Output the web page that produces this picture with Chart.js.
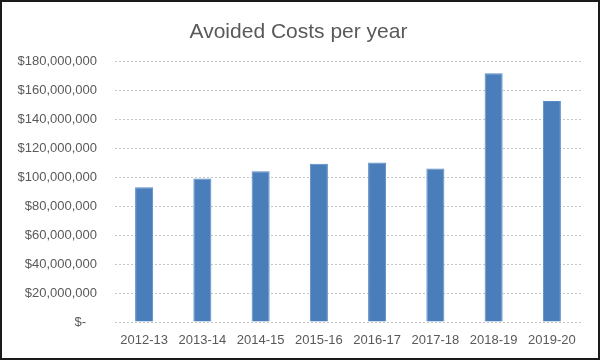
<!DOCTYPE html>
<html>
<head>
<meta charset="utf-8">
<script src="https://cdn.jsdelivr.net/npm/chart.js@4/dist/chart.umd.min.js"></script>
<style>
  html, body { margin: 0; padding: 0; background: #fff; }
  #wrap { width: 600px; height: 360px; }
</style>
</head>
<body>
<div id="wrap"><canvas id="myChart" width="600" height="360"></canvas></div>
<script>
const years = ['2012-13', '2013-14', '2014-15', '2015-16', '2016-17', '2017-18', '2018-19', '2019-20'];
const avoidedCosts = [93000000, 99000000, 104000000, 109300000, 110000000, 106000000, 171600000, 152500000];
const yTicks = [0, 20000000, 40000000, 60000000, 80000000, 100000000, 120000000, 140000000, 160000000, 180000000];

const textColor = '#595959';
const fontFamily = "'Liberation Sans', Arial, sans-serif";

// outer frame like the exported picture
const framePlugin = {
    id: 'frame',
    afterDraw(chart) {
        const ctx = chart.ctx;
        ctx.save();
        ctx.strokeStyle = '#1a1a1a';
        ctx.lineWidth = 2;
        ctx.strokeRect(1, 1, chart.width - 2, chart.height - 2);
        ctx.restore();
    }
};

const data = {
    labels: years,
    datasets: [{
        label: 'Avoided Costs',
        data: avoidedCosts,
        backgroundColor: '#4a7ebb',
        borderColor: '#5a8ac4',
        borderWidth: 1,
        barPercentage: 0.62,
        categoryPercentage: 0.5
    }]
};

const options = {
    responsive: false,
    animation: false,
    layout: { padding: { left: 16, right: 19, top: 0, bottom: 0 } },
    scales: {
        y: {
            min: 0,
            max: 180000000,
            afterFit(scale) { scale.width = 99; },
            afterBuildTicks(scale) { scale.ticks = yTicks.map(v => ({ value: v })); },
            grid: {
                color: '#c6c6c6',
                drawTicks: false
            },
            border: { display: false, dash: [2, 2] },
            ticks: {
                padding: 18,
                color: textColor,
                font: { family: fontFamily, size: 13 },
                callback: v => v === 0 ? '$-   ' : '$' + v.toLocaleString('en-US')
            }
        },
        x: {
            afterFit(scale) { scale.height = 38; },
            border: { display: false },
            grid: { display: false, drawTicks: false },
            ticks: {
                padding: 11,
                color: textColor,
                maxRotation: 0,
                font: { family: fontFamily, size: 13 }
            }
        }
    },
    plugins: {
        legend: { display: false },
        tooltip: { enabled: false },
        title: {
            display: true,
            text: 'Avoided Costs per year',
            color: textColor,
            font: { family: fontFamily, size: 21, weight: 'normal' },
            padding: { top: 20, bottom: 16 }
        }
    }
};

const canvas = document.getElementById('myChart');
const myChart = new Chart(canvas.getContext('2d'), {
    type: 'bar',
    data: data,
    options: options,
    plugins: [framePlugin]
});
</script>
</body>
</html>
